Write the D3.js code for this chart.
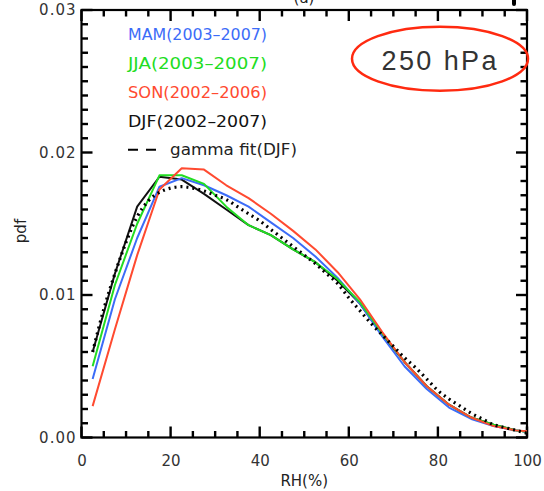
<!DOCTYPE html>
<html>
<head>
<meta charset="utf-8">
<script src="https://cdn.jsdelivr.net/npm/d3@7/dist/d3.min.js"></script>
<style>
  html, body { margin: 0; padding: 0; background: #fff; }
  svg { display: block; }
  text { font-family: "DejaVu Sans", sans-serif; }
</style>
</head>
<body>
<svg id="chart" width="544" height="491"></svg>
<script>
// Relative humidity bins (%) at which the seasonal PDFs are sampled
const rhBins = [2.5, 7.5, 12.5, 17.5, 22.5, 27.5, 32.5, 37.5, 42.5, 47.5, 52.5,
                57.5, 62.5, 67.5, 72.5, 77.5, 82.5, 87.5, 92.5, 97.5, 100];

// Seasonal PDFs of RH at 250 hPa
const mam = [0.0041, 0.0097, 0.0140, 0.0176, 0.0182, 0.0177, 0.0170, 0.0162, 0.0151, 0.0140, 0.0127,
             0.0112, 0.0094, 0.0071, 0.0050, 0.0034, 0.0021, 0.0013, 0.0008, 0.0005, 0.0004];
const jja = [0.0050, 0.0107, 0.0150, 0.0184, 0.0184, 0.0178, 0.0162, 0.0149, 0.0142, 0.0132, 0.0123,
             0.0111, 0.0095, 0.0073, 0.0053, 0.0036, 0.0023, 0.0014, 0.0009, 0.0005, 0.0004];
const son = [0.0022, 0.0076, 0.0128, 0.0174, 0.0189, 0.0188, 0.0177, 0.0168, 0.0157, 0.0145, 0.0132,
             0.0116, 0.0097, 0.0074, 0.0053, 0.0036, 0.0023, 0.0014, 0.0008, 0.0005, 0.00044];
const djf = [0.0060, 0.0115, 0.0162, 0.0183, 0.0181, 0.0171, 0.0160, 0.0149, 0.0142, 0.0132, 0.0123,
             0.0110, 0.0094, 0.0072, 0.0053, 0.0036, 0.0023, 0.0014, 0.0009, 0.0005, 0.0004];

// Gamma distribution fitted to the DJF PDF
const gammaRH = [2.5, 5, 7.5, 10, 12.5, 15, 17.5, 20, 22.5, 25, 27.5, 30, 32.5, 35, 37.5, 40,
                 42.5, 45, 47.5, 50, 52.5, 55, 57.5, 60, 62.5, 65, 67.5, 70, 72.5, 75, 77.5,
                 80, 82.5, 85, 87.5, 90, 92.5, 95, 97.5, 100];
const gammaPdf = [0.0060, 0.0090, 0.0115, 0.0137, 0.0155, 0.0166, 0.0172, 0.0175, 0.0176, 0.0175,
                  0.0173, 0.0170, 0.0167, 0.0162, 0.0157, 0.0152, 0.0146, 0.0140, 0.0134, 0.0128,
                  0.0122, 0.0115, 0.0108, 0.0098, 0.0089, 0.0080, 0.0072, 0.0064, 0.0056, 0.0049,
                  0.0041, 0.0033, 0.0027, 0.0022, 0.0017, 0.0013, 0.0009, 0.0007, 0.0005, 0.0003];

const seriesNames = ["DJF(2002\u20132007)", "MAM(2003\u20132007)", "JJA(2003\u20132007)", "SON(2002\u20132006)"];
const seriesValues = [djf, mam, jja, son];
const seriesColors = ["#111111", "#3c6cf8", "#22dd22", "#ff4a30"];

const legendOrder = [1, 2, 3, 0];
const gammaLabel = "gamma fit(DJF)";

const xTickMajor = [0, 20, 40, 60, 80, 100];
const yTickMajor = [0, 0.01, 0.02, 0.03];
const yTickLabels = ["0.00", "0.01", "0.02", "0.03"];

const xLabel = "RH(%)";
const yLabel = "pdf";
const levelLabel = "250 hPa";
const panelLabel = "(a)";

const svg = d3.select("#chart");
const plotLeft = 81.5, plotRight = 527, plotTop = 10, plotBottom = 437.5;

const x = d3.scaleLinear().domain([0, 100]).range([plotLeft, plotRight]);
const y = d3.scaleLinear().domain([0, 0.03]).range([plotBottom, plotTop]);

const xMinor = d3.range(0, 101, 5).filter(v => v % 20 !== 0);
const yMinor = d3.range(0, 31).map(i => i / 1000).filter((v, i) => i % 10 !== 0);

const ink = "#000";
const tw = 2.4; // tick thickness

// frame
svg.append("rect").attr("x", plotLeft).attr("y", plotTop)
  .attr("width", plotRight - plotLeft).attr("height", plotBottom - plotTop)
  .attr("fill", "none").attr("stroke", ink).attr("stroke-width", 2.2);

// inward ticks on all four sides, drawn as small filled bars
const tickG = svg.append("g").attr("fill", ink);
function xTicks(vals, len) {
  tickG.selectAll(null).data(vals).join("rect")
    .attr("x", d => x(d) - tw / 2).attr("width", tw)
    .attr("y", plotBottom - len).attr("height", len);
  tickG.selectAll(null).data(vals).join("rect")
    .attr("x", d => x(d) - tw / 2).attr("width", tw)
    .attr("y", plotTop).attr("height", len);
}
function yTicks(vals, len) {
  tickG.selectAll(null).data(vals).join("rect")
    .attr("y", d => y(d) - tw / 2).attr("height", tw)
    .attr("x", plotLeft).attr("width", len);
  tickG.selectAll(null).data(vals).join("rect")
    .attr("y", d => y(d) - tw / 2).attr("height", tw)
    .attr("x", plotRight - len).attr("width", len);
}
xTicks(xTickMajor, 11); xTicks(xMinor, 6.5);
yTicks(yTickMajor, 11); yTicks(yMinor, 6.5);

// tick labels through d3 axes (tick marks drawn above)
const labelStyle = g => {
  g.select(".domain").remove();
  g.selectAll(".tick line").remove();
  g.selectAll(".tick text").style("font-size", "15px").style("fill", "#333");
};
svg.append("g").attr("transform", `translate(0,${plotBottom})`)
  .call(d3.axisBottom(x).tickValues(xTickMajor).tickFormat(d3.format("d"))
        .tickSize(0).tickPadding(18))
  .call(labelStyle);
svg.append("g").attr("transform", `translate(${plotLeft},0)`)
  .call(d3.axisLeft(y).tickValues(yTickMajor).tickFormat((d, i) => yTickLabels[i])
        .tickSize(0).tickPadding(5))
  .call(labelStyle)
  .selectAll(".tick text").style("letter-spacing", "1px");

// axis titles
svg.append("text").attr("x", (plotLeft + plotRight) / 2).attr("y", 486)
  .attr("text-anchor", "middle").style("font-size", "15px").style("fill", "#222").text(xLabel);
svg.append("text").attr("transform", "translate(26,231) rotate(-90)")
  .attr("text-anchor", "middle").style("font-size", "15px").style("fill", "#222").text(yLabel);

// panel letter at the very top edge
svg.append("text").attr("x", 304).attr("y", 3).attr("text-anchor", "middle")
  .style("font-size", "15px").style("fill", "#222").text(panelLabel);
svg.append("line").attr("x1", 514).attr("x2", 514).attr("y1", -2).attr("y2", 4)
  .attr("stroke", ink).attr("stroke-width", 4).attr("stroke-linecap", "round");

// seasonal curves
const line = d3.line().x((d, i) => x(rhBins[i])).y(d => y(d));
seriesValues.forEach((vals, k) => {
  svg.append("path").datum(vals).attr("d", line)
    .attr("fill", "none").attr("stroke", seriesColors[k])
    .attr("stroke-width", 2).attr("stroke-linejoin", "round");
});

// gamma fit, dashed
const gLine = d3.line().x((d, i) => x(gammaRH[i])).y(d => y(d)).curve(d3.curveMonotoneX);
svg.append("path").datum(gammaPdf).attr("d", gLine)
  .attr("fill", "none").attr("stroke", ink).attr("stroke-width", 3.2)
  .attr("stroke-dasharray", "2,4");

// legend
const legX = 128, legY0 = 35, legDy = 28.7;
legendOrder.forEach((k, row) => {
  svg.append("text").attr("x", legX).attr("y", legY0 + row * legDy).attr("dy", "0.36em")
    .style("font-size", "15px").style("fill", seriesColors[k])
    .attr("textLength", 139).attr("lengthAdjust", "spacingAndGlyphs")
    .text(seriesNames[k]);
});
const gy = legY0 + 4 * legDy;
svg.append("line").attr("x1", legX).attr("x2", legX + 30).attr("y1", gy).attr("y2", gy)
  .attr("stroke", ink).attr("stroke-width", 2).attr("stroke-dasharray", "10,8");
svg.append("text").attr("x", legX + 42).attr("y", gy).attr("dy", "0.36em")
  .style("font-size", "15px").style("fill", "#222")
  .attr("textLength", 127).attr("lengthAdjust", "spacingAndGlyphs")
  .text(gammaLabel);

// pressure-level annotation
svg.append("ellipse").attr("cx", 440).attr("cy", 58.7).attr("rx", 88).attr("ry", 32)
  .attr("fill", "none").attr("stroke", "#ff2a10").attr("stroke-width", 2.5);
svg.append("text").attr("x", 439).attr("y", 60).attr("dy", "0.36em").attr("text-anchor", "middle")
  .style("font-family", "Liberation Sans, Arial, sans-serif").style("font-size", "27px")
  .style("fill", "#333").attr("textLength", 115).attr("lengthAdjust", "spacing")
  .text(levelLabel);
</script>
</body>
</html>
